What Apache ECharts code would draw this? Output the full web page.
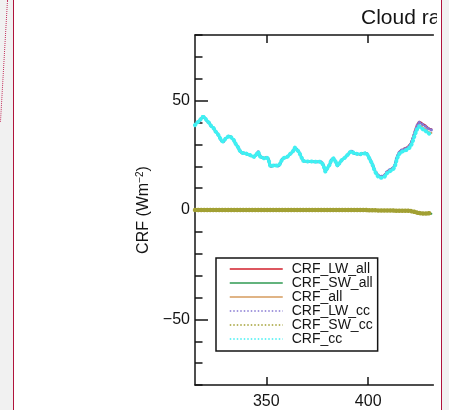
<!DOCTYPE html>
<html>
<head>
<meta charset="utf-8">
<script src="https://cdn.jsdelivr.net/npm/echarts@6/dist/echarts.min.js"></script>
<style>
  html, body { margin: 0; padding: 0; width: 449px; height: 410px; overflow: hidden; background: #fff; }
  #sideL { position: absolute; left: 0; top: 0; width: 13px; height: 410px; background: #f1f1f1; border-right: 1px solid #b0143c; }
  #sideR { position: absolute; left: 441px; top: 0; width: 8px; height: 410px; background: #f1f1f1; border-left: 1px solid #b0143c; }
  #trail { position: absolute; left: 7px; top: 0; height: 122px; border-left: 1px dotted #c4325e; transform: rotate(3.3deg); transform-origin: top left; }
  #chart { position: absolute; left: 14px; top: 0; width: 423px; height: 410px; }
</style>
</head>
<body>
<div id="sideL"></div>
<div id="trail"></div>
<div id="sideR"></div>
<div id="chart"></div>
<script>
// Day of the first sample; one sample per day after that
const firstDay = 315;

const crfLwAll = [
  38.8, 40.0, 40.5, 41.8, 42.8, 41.9, 40.6, 39.8, 38.3, 37.6,
  36.0, 35.0, 33.4, 31.6, 31.2, 32.7, 33.4, 33.9, 33.0, 32.0,
  30.2, 28.9, 27.1, 26.0, 26.1, 25.9, 25.2, 25.1, 24.6, 24.3,
  25.2, 26.6, 24.4, 24.0, 23.6, 24.1, 23.4, 19.8, 20.2, 20.5,
  20.3, 20.1, 21.6, 23.6, 23.9, 24.1, 24.9, 25.9, 26.7, 28.5,
  27.6, 26.6, 24.6, 22.5, 22.3, 22.2, 22.1, 22.2, 22.1, 22.1,
  22.0, 22.1, 21.9, 20.5, 17.5, 19.2, 20.6, 23.0, 23.6, 22.1,
  20.1, 21.6, 22.8, 23.5, 24.3, 25.3, 26.4, 26.9, 25.9, 25.7,
  25.6, 25.4, 25.9, 25.8, 26.2,
  24.7, 22.9, 21.1, 18.5, 17.0, 15.8, 15.4, 15.5, 15.9, 17.3,
  18.1, 18.6, 19.1, 20.4, 24.0, 26.1, 27.3, 27.6, 28.3, 28.6,
  29.4, 30.7, 33.3, 36.3, 39.0, 40.4, 39.9, 39.2, 38.7, 37.8,
  37.2, 36.9
];

const crfSwAll = [
  0, 0, 0, 0, 0, 0, 0, 0, 0, 0,
  0, 0, 0, 0, 0, 0, 0, 0, 0, 0,
  0, 0, 0, 0, 0, 0, 0, 0, 0, 0,
  0, 0, 0, 0, 0, 0, 0, 0, 0, 0,
  0, 0, 0, 0, 0, 0, 0, 0, 0, 0,
  0, 0, 0, 0, 0, 0, 0, 0, 0, 0,
  0, 0, 0, 0, 0, 0, 0, 0, 0, 0,
  0, 0, 0, 0, 0, 0, 0, 0, 0, 0,
  0, 0, 0, 0, 0,
  -0.1, -0.1, -0.1, -0.1, -0.1, -0.2, -0.2, -0.2, -0.2, -0.2,
  -0.2, -0.2, -0.2, -0.3, -0.3, -0.3, -0.3, -0.3, -0.3, -0.3,
  -0.4, -0.5, -0.7, -0.9, -1.3, -1.5, -1.6, -1.7, -1.7, -1.7,
  -1.7, -1.7
];

const crfAll = [
  38.8, 40.0, 40.5, 41.8, 42.8, 41.9, 40.6, 39.8, 38.3, 37.6,
  36.0, 35.0, 33.4, 31.6, 31.2, 32.7, 33.4, 33.9, 33.0, 32.0,
  30.2, 28.9, 27.1, 26.0, 26.1, 25.9, 25.2, 25.1, 24.6, 24.3,
  25.2, 26.6, 24.4, 24.0, 23.6, 24.1, 23.4, 19.8, 20.2, 20.5,
  20.3, 20.1, 21.6, 23.6, 23.9, 24.1, 24.9, 25.9, 26.7, 28.5,
  27.6, 26.6, 24.6, 22.5, 22.3, 22.2, 22.1, 22.2, 22.1, 22.1,
  22.0, 22.1, 21.9, 20.5, 17.5, 19.2, 20.6, 23.0, 23.6, 22.1,
  20.1, 21.6, 22.8, 23.5, 24.3, 25.3, 26.4, 26.9, 25.9, 25.7,
  25.6, 25.4, 25.9, 25.8, 26.2,
  24.6, 22.8, 21.0, 18.4, 16.9, 15.6, 15.2, 15.3, 15.7, 17.1,
  17.9, 18.4, 18.9, 20.1, 23.7, 25.8, 27.0, 27.3, 28.0, 28.3,
  29.0, 30.2, 32.6, 35.4, 37.7, 38.9, 38.3, 37.5, 37.0, 36.1,
  35.5, 35.2
];

const crfLwCc = [
  38.8, 40.0, 40.5, 41.8, 42.8, 41.9, 40.6, 39.8, 38.3, 37.6,
  36.0, 35.0, 33.4, 31.6, 31.2, 32.7, 33.4, 33.9, 33.0, 32.0,
  30.2, 28.9, 27.1, 26.0, 26.1, 25.9, 25.2, 25.1, 24.6, 24.3,
  25.2, 26.6, 24.4, 24.0, 23.6, 24.1, 23.4, 19.8, 20.2, 20.5,
  20.3, 20.1, 21.6, 23.6, 23.9, 24.1, 24.9, 25.9, 26.7, 28.5,
  27.6, 26.6, 24.6, 22.5, 22.3, 22.2, 22.1, 22.2, 22.1, 22.1,
  22.0, 22.1, 21.9, 20.5, 17.5, 19.2, 20.6, 23.0, 23.6, 22.1,
  20.1, 21.6, 22.8, 23.5, 24.3, 25.3, 26.4, 26.9, 25.9, 25.7,
  25.6, 25.4, 25.9, 25.8, 26.2,
  24.7, 22.9, 21.1, 18.5, 17.0, 15.8, 15.4, 15.5, 15.9, 17.3,
  18.1, 18.6, 19.1, 20.4, 24.0, 26.1, 27.3, 27.6, 28.0, 28.3,
  29.1, 30.4, 33.0, 36.0, 38.7, 40.1, 39.6, 38.9, 38.4, 37.5,
  36.9, 36.6
];

const crfSwCc = [
  0, 0, 0, 0, 0, 0, 0, 0, 0, 0,
  0, 0, 0, 0, 0, 0, 0, 0, 0, 0,
  0, 0, 0, 0, 0, 0, 0, 0, 0, 0,
  0, 0, 0, 0, 0, 0, 0, 0, 0, 0,
  0, 0, 0, 0, 0, 0, 0, 0, 0, 0,
  0, 0, 0, 0, 0, 0, 0, 0, 0, 0,
  0, 0, 0, 0, 0, 0, 0, 0, 0, 0,
  0, 0, 0, 0, 0, 0, 0, 0, 0, 0,
  0, 0, 0, 0, 0,
  -0.1, -0.1, -0.1, -0.1, -0.1, -0.2, -0.2, -0.2, -0.2, -0.2,
  -0.2, -0.2, -0.2, -0.3, -0.3, -0.3, -0.3, -0.3, -0.3, -0.3,
  -0.4, -0.5, -0.7, -0.9, -1.2, -1.4, -1.5, -1.6, -1.6, -1.6,
  -1.5, -1.6
];

const crfCc = [
  38.8, 40.0, 40.5, 41.8, 42.8, 41.9, 40.6, 39.8, 38.3, 37.6,
  36.0, 35.0, 33.4, 31.6, 31.2, 32.7, 33.4, 33.9, 33.0, 32.0,
  30.2, 28.9, 27.1, 26.0, 26.1, 25.9, 25.2, 25.1, 24.6, 24.3,
  25.2, 26.6, 24.4, 24.0, 23.6, 24.1, 23.4, 19.8, 20.2, 20.5,
  20.3, 20.1, 21.6, 23.6, 23.9, 24.1, 24.9, 25.9, 26.7, 28.5,
  27.6, 26.6, 24.6, 22.5, 22.3, 22.2, 22.1, 22.2, 22.1, 22.1,
  22.0, 22.1, 21.9, 20.5, 17.5, 19.2, 20.6, 23.0, 23.6, 22.1,
  20.1, 21.6, 22.8, 23.5, 24.3, 25.3, 26.4, 26.9, 25.9, 25.7,
  25.6, 25.4, 25.9, 25.8, 26.2,
  24.6, 22.8, 21.0, 18.4, 16.4, 15.1, 14.7, 14.8, 15.2, 16.6,
  17.4, 17.9, 18.4, 19.6, 23.2, 25.3, 26.5, 26.8, 27.2, 27.5,
  28.2, 29.4, 31.8, 34.6, 37.0, 38.2, 37.6, 36.8, 36.3, 35.4,
  34.9, 34.5
];

// Axis ticks and labels
const xTickValues = [350, 400];
const yLabelValues = [-50, 0, 50];

const FONT = '"Liberation Sans", Arial, Helvetica, sans-serif';
const INK = '#141414';

function toPairs(values) {
  return values.map((v, i) => [firstDay + i, v]);
}

const seriesDefs = [
  { name: 'CRF_LW_all', data: crfLwAll, color: '#d21f2b', width: 2, type: 'solid' },
  { name: 'CRF_SW_all', data: crfSwAll, color: '#2f9a52', width: 2, type: 'solid' },
  { name: 'CRF_all',    data: crfAll,   color: '#d69b5c', width: 2, type: 'solid' },
  { name: 'CRF_LW_cc',  data: crfLwCc,  color: '#8577d2', width: 3, type: [0.5, 3] },
  { name: 'CRF_SW_cc',  data: crfSwCc,  color: '#a2a033', width: 4.5, type: [0.5, 2.5] },
  { name: 'CRF_cc',     data: crfCc,    color: '#3ff0f2', width: 4, type: [0.5, 3.5] }
];

const series = seriesDefs.map(d => ({
  name: d.name,
  type: 'line',
  data: toPairs(d.data),
  symbol: 'none',
  showSymbol: false,
  smooth: false,
  animation: false,
  color: d.color,
  lineStyle: { color: d.color, width: d.width, type: d.type, cap: 'round' }
}));

// Legend samples: thin lines only, no marker
const legendItems = seriesDefs.map(d => ({
  name: d.name,
  itemStyle: { color: 'transparent', borderWidth: 0, opacity: 0 },
  lineStyle: { width: 1.5, type: d.type === 'solid' ? 'solid' : [1.5, 2], cap: 'butt', opacity: 1 }
}));

const chart = echarts.init(document.getElementById('chart'), null, { renderer: 'canvas' });

chart.setOption({
  backgroundColor: 'transparent',
  animation: false,
  title: {
    text: 'Cloud radiative forcing',
    left: 347,
    top: 8,
    padding: 0,
    textStyle: { fontFamily: FONT, fontSize: 21, fontWeight: 'normal', color: INK }
  },
  grid: { left: 181, top: 35, right: 3.6, bottom: 24.8, containLabel: false },
  legend: {
    orient: 'vertical',
    left: 202,
    top: 258,
    itemWidth: 53,
    itemHeight: 14,
    itemGap: 0,
    padding: [4, 5, 5, 13],
    borderColor: INK,
    borderWidth: 1.5,
    backgroundColor: '#fff',
    selectedMode: false,
    textStyle: { fontFamily: FONT, fontSize: 14, color: INK, lineHeight: 14, padding: [0, 0, 0, 4] },
    data: legendItems
  },
  xAxis: [
    {
      type: 'value',
      min: 315,
      max: 432,
      position: 'bottom',
      axisLine: { show: true, onZero: false, lineStyle: { color: INK, width: 1.5 } },
      axisTick: { show: true, inside: true, length: 8, customValues: xTickValues, lineStyle: { color: INK, width: 1.5 } },
      axisLabel: { show: true, customValues: xTickValues, margin: 9, fontFamily: FONT, fontSize: 16, color: INK },
      splitLine: { show: false }
    },
    {
      type: 'value',
      min: 315,
      max: 432,
      position: 'top',
      axisLine: { show: true, onZero: false, lineStyle: { color: INK, width: 1.5 } },
      axisTick: { show: true, inside: true, length: 8, customValues: xTickValues, lineStyle: { color: INK, width: 1.5 } },
      axisLabel: { show: false },
      splitLine: { show: false }
    }
  ],
  yAxis: [
    {
      type: 'value',
      min: -80,
      max: 80,
      interval: 10,
      position: 'left',
      name: '{a|CRF (Wm}{s|−2}{a|)}',
      nameLocation: 'middle',
      nameRotate: 90,
      nameGap: 42,
      nameTextStyle: {
        rich: {
          a: { fontFamily: FONT, fontSize: 16, color: INK, lineHeight: 18 },
          s: { fontFamily: FONT, fontSize: 10, color: INK, lineHeight: 10, verticalAlign: 'top' }
        }
      },
      axisLine: { show: true, onZero: false, lineStyle: { color: INK, width: 1.5 } },
      axisTick: { show: true, inside: true, length: 7.5, lineStyle: { color: INK, width: 1.5 } },
      axisLabel: {
        show: true,
        customValues: yLabelValues,
        margin: 5,
        fontFamily: FONT,
        fontSize: 16,
        color: INK,
        formatter: v => (v < 0 ? '\u2212' + Math.abs(v) : String(v))
      },
      splitLine: { show: false }
    },
    {
      type: 'value',
      min: -80,
      max: 80,
      position: 'left',
      axisLine: { show: false },
      axisTick: { show: true, inside: true, length: 13, customValues: yLabelValues, lineStyle: { color: INK, width: 1.5 } },
      axisLabel: { show: false },
      splitLine: { show: false }
    }
  ],
  series: series
});
</script>
</body>
</html>
